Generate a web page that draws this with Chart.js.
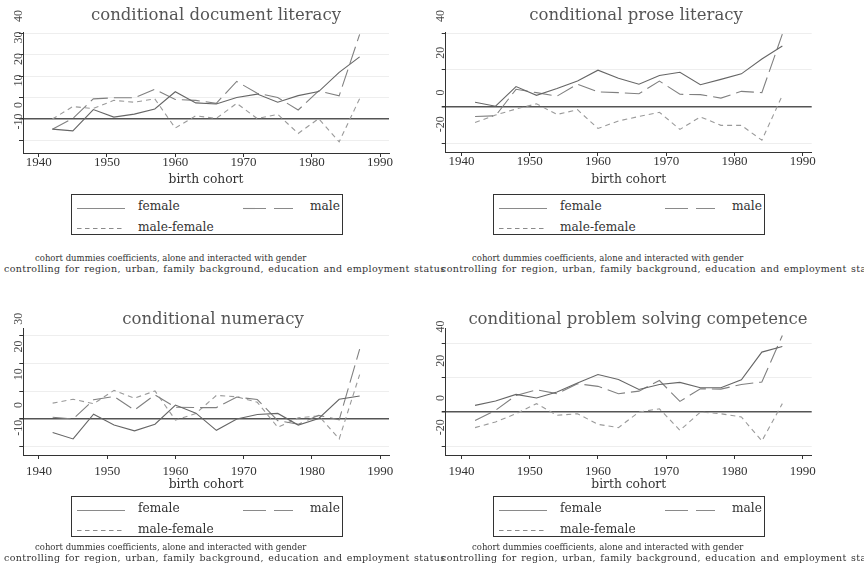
<!DOCTYPE html>
<html>
<head>
<meta charset="utf-8">
<script src="https://cdn.jsdelivr.net/npm/chart.js@4.4.1/dist/chart.umd.min.js"></script>
<style>
body{margin:0;background:#fff;width:864px;height:578px;position:relative;overflow:hidden;font-family:"DejaVu Serif",serif;color:#333}
.panel{position:absolute}
.panel canvas{position:absolute;left:0;top:0}
.title{position:absolute;white-space:nowrap;font-size:16.5px;line-height:16.5px;color:#555;transform:translateX(-50%)}
.legend{position:absolute;border:1px solid #333;width:270px;height:39px}
.legend span{position:absolute;white-space:nowrap;font-size:12.2px;line-height:12.2px;color:#333}
.legend svg{position:absolute}
.note{position:absolute;white-space:nowrap;font-size:8.5px;line-height:9px;color:#333}
.note.wide{font-size:9.5px;letter-spacing:0.36px;word-spacing:1px}
</style>
</head>
<body>
<script>
// birth cohorts (every 3 years)
var years = [1942, 1945, 1948, 1951, 1954, 1957, 1960, 1963, 1966, 1969, 1972, 1975, 1978, 1981, 1984, 1987];
var xTicks = [1940, 1950, 1960, 1970, 1980, 1990];

// conditional document literacy
var docFemale = [-4.7, -5.5, 4.4, 0.9, 2.3, 4.7, 12.7, 7.5, 7.0, 10.0, 11.6, 7.8, 10.9, 12.8, 21.7, 28.9];
var docMale   = [-4.7, 0.3, 9.4, 9.9, 9.9, 13.8, 9.1, 8.7, 7.3, 17.5, 12.0, 10.0, 4.2, 13.1, 10.8, 39.4];
var docGap    = [0.0, 5.8, 4.9, 8.7, 7.8, 9.4, -4.2, 1.5, 0.3, 7.3, 0.2, 2.2, -6.7, 0.2, -10.6, 9.5];
var docTicks  = [-10, 0, 10, 20, 30, 40];

// conditional prose literacy
var proseFemale = [2.4, 0.2, 10.9, 6.1, 9.8, 13.9, 19.8, 15.4, 12.2, 16.9, 18.7, 11.9, 14.8, 17.8, 25.9, 33.0];
var proseMale   = [-5.4, -5.0, 9.4, 7.6, 5.7, 12.2, 8.0, 7.6, 7.0, 13.9, 6.7, 6.5, 4.6, 8.3, 7.6, 39.4];
var proseGap    = [-8.7, -4.6, -1.3, 1.5, -4.3, -1.7, -11.9, -7.8, -5.4, -3.1, -12.4, -5.6, -10.2, -10.2, -18.3, 6.1];
var proseTicks  = [-20, 0, 20, 40];

// conditional numeracy
var numFemale = [-4.9, -7.2, 1.7, -2.2, -4.3, -1.9, 5.0, 2.1, -4.1, 0.0, 1.6, 2.0, -2.2, 0.2, 7.1, 8.3];
var numMale   = [0.6, 0.0, 6.9, 8.1, 3.2, 8.7, 4.2, 4.1, 4.1, 7.9, 7.0, -0.6, -1.9, 1.3, -0.3, 25.2];
var numGap    = [5.7, 7.1, 5.5, 10.3, 7.5, 10.1, -0.4, 2.0, 8.5, 8.0, 6.0, -3.0, 0.4, 1.1, -7.2, 16.0];
var numTicks  = [-10, 0, 10, 20, 30];

// conditional problem solving competence
var probFemale = [3.9, 6.4, 10.3, 8.2, 11.7, 16.9, 21.9, 19.0, 13.2, 16.1, 17.3, 14.2, 14.2, 18.8, 35.0, 38.3];
var probMale   = [-4.9, 1.0, 9.7, 13.0, 10.7, 16.5, 15.0, 10.7, 12.2, 18.4, 6.2, 13.6, 13.4, 16.1, 17.5, 44.7];
var probGap    = [-9.1, -5.8, -1.0, 4.9, -1.9, -1.0, -7.2, -9.1, 0.0, 1.9, -10.7, 0.0, -1.0, -2.9, -16.9, 4.9];
var probTicks  = [-20, 0, 20, 40];

var seriesNames = ['female', 'male', 'male-female'];
var noteLines = ['cohort dummies coefficients, alone and interacted with gender',
                 'controlling for region, urban, family background, education and employment status'];

var panels = [
  {title: 'conditional document literacy', f: docFemale, m: docMale, g: docGap, yTicks: docTicks,
   yMin: -15.8, yMax: 40.5, left: 0, top: 0, h: 192, plotL: 23, plotR: 389, plotT: 32, plotB: 153,
   xPad: -2.3, titleX: 216, titleY: 7, legX: 71, legY: 194, noteY: 254, note1X: 35, note2X: 4},
  {title: 'conditional prose literacy', f: proseFemale, m: proseMale, g: proseGap, yTicks: proseTicks,
   yMin: -24.7, yMax: 40.3, left: 432, top: 0, h: 192, plotL: 13.7, plotR: 379.7, plotT: 32.5, plotB: 152,
   xPad: -2.3, titleX: 636, titleY: 7, legX: 493, legY: 194, noteY: 254, note1X: 472, note2X: 441},
  {title: 'conditional numeracy', f: numFemale, m: numMale, g: numGap, yTicks: numTicks,
   yMin: -13.0, yMax: 32.7, left: 0, top: 296, h: 201, plotL: 23.3, plotR: 389, plotT: 32.3, plotB: 159,
   xPad: 4.9, titleX: 213, titleY: 311, legX: 71, legY: 496, noteY: 543, note1X: 35, note2X: 4},
  {title: 'conditional problem solving competence', f: probFemale, m: probMale, g: probGap, yTicks: probTicks,
   yMin: -25.1, yMax: 48.9, left: 432, top: 296, h: 201, plotL: 13.7, plotR: 379.7, plotT: 32.3, plotB: 159,
   xPad: 4.9, titleX: 638, titleY: 311, legX: 493, legY: 496, noteY: 543, note1X: 472, note2X: 441}
];

// rotated y labels, drawn a little above their tick like the original
var yLabels = {
  id: 'yLabels',
  afterDraw: function(chart) {
    var s = chart.scales.y, ctx = chart.ctx;
    ctx.save();
    ctx.font = '12px "Liberation Serif"';
    ctx.fillStyle = '#4a4a4a';
    ctx.textAlign = 'left';
    ctx.textBaseline = 'alphabetic';
    s.ticks.forEach(function(t) {
      var py = s.getPixelForValue(t.value);
      ctx.save();
      ctx.translate(s.right - 1.5, py - 11);
      ctx.rotate(-Math.PI / 2);
      ctx.fillText(String(t.value), 0, 0);
      ctx.restore();
    });
    ctx.restore();
  }
};

function pts(arr) {
  return years.map(function(y, i) { return {x: y, y: arr[i]}; });
}

function sample(dash, w) {
  return '<svg width="' + w + '" height="3"><line x1="0" y1="1.5" x2="' + w + '" y2="1.5" stroke="#8a8a8a" stroke-width="1.1"' +
    (dash ? ' stroke-dasharray="' + dash + '"' : '') + '/></svg>';
}

function addText(cls, txt, x, y) {
  var d = document.createElement('div');
  d.className = cls;
  d.textContent = txt;
  d.style.left = x + 'px';
  d.style.top = y + 'px';
  document.body.appendChild(d);
  return d;
}

panels.forEach(function(p) {
  var wrap = document.createElement('div');
  wrap.className = 'panel';
  wrap.style.left = p.left + 'px';
  wrap.style.top = p.top + 'px';
  wrap.style.width = '432px';
  wrap.style.height = p.h + 'px';
  var cv = document.createElement('canvas');
  cv.width = 432;
  cv.height = p.h;
  wrap.appendChild(cv);
  document.body.appendChild(wrap);

  new Chart(cv, {
    type: 'line',
    data: {
      datasets: [
        {label: seriesNames[0], data: pts(p.f), borderColor: '#666', borderWidth: 1.1},
        {label: seriesNames[1], data: pts(p.m), borderColor: '#808080', borderWidth: 1.1, borderDash: [18, 6]},
        {label: seriesNames[2], data: pts(p.g), borderColor: '#9a9a9a', borderWidth: 1.1, borderDash: [5, 4]}
      ]
    },
    options: {
      responsive: false,
      animation: false,
      elements: {point: {radius: 0}, line: {tension: 0}},
      layout: {padding: {left: 0, top: p.plotT, right: 432 - p.plotR, bottom: 0}},
      plugins: {legend: {display: false}, tooltip: {enabled: false}},
      scales: {
        x: {
          type: 'linear', min: 1937.7, max: 1991.3,
          afterBuildTicks: function(s) { s.ticks = xTicks.map(function(v) { return {value: v}; }); },
          afterFit: function(s) { s.height = p.h - p.plotB; s.paddingLeft = 0; s.paddingRight = 0; },
          ticks: {font: {family: 'Liberation Serif', size: 13}, color: '#333', padding: p.xPad,
                  maxRotation: 0, autoSkip: false, callback: function(v) { return String(v); }},
          grid: {drawOnChartArea: false, tickLength: 4, tickColor: '#333'},
          border: {color: '#333', width: 1},
          title: {display: true, text: 'birth cohort', color: '#333',
                  font: {family: 'DejaVu Serif', size: 12.3}, padding: {top: 0, bottom: 4.6}}
        },
        y: {
          type: 'linear', min: p.yMin, max: p.yMax,
          afterBuildTicks: function(s) { s.ticks = p.yTicks.map(function(v) { return {value: v}; }); },
          afterFit: function(s) { s.width = p.plotL; s.paddingTop = 0; s.paddingBottom = 0; },
          ticks: {display: false},
          grid: {
            color: function(c) { return c.tick && c.tick.value === 0 ? '#555' : '#eeeeee'; },
            lineWidth: function(c) { return c.tick && c.tick.value === 0 ? 1.5 : 1; },
            tickLength: 4, tickColor: '#333'
          },
          border: {color: '#333', width: 1}
        }
      }
    },
    plugins: [yLabels]
  });

  addText('title', p.title, p.titleX, p.titleY);

  var leg = document.createElement('div');
  leg.className = 'legend';
  leg.style.left = p.legX + 'px';
  leg.style.top = p.legY + 'px';
  leg.innerHTML =
    '<div style="position:absolute;left:5px;top:11.5px">' + sample('', 48) + '</div>' +
    '<span style="left:66px;top:5px">' + seriesNames[0] + '</span>' +
    '<div style="position:absolute;left:171px;top:11.5px">' + sample('23 8', 50) + '</div>' +
    '<span style="left:238px;top:5px">' + seriesNames[1] + '</span>' +
    '<div style="position:absolute;left:5px;top:31.5px">' + sample('4.5 3.5', 48) + '</div>' +
    '<span style="left:66px;top:25.5px">' + seriesNames[2] + '</span>';
  document.body.appendChild(leg);

  addText('note', noteLines[0], p.note1X, p.noteY);
  addText('note wide', noteLines[1], p.note2X, p.noteY + 10);
});
</script>
</body>
</html>
